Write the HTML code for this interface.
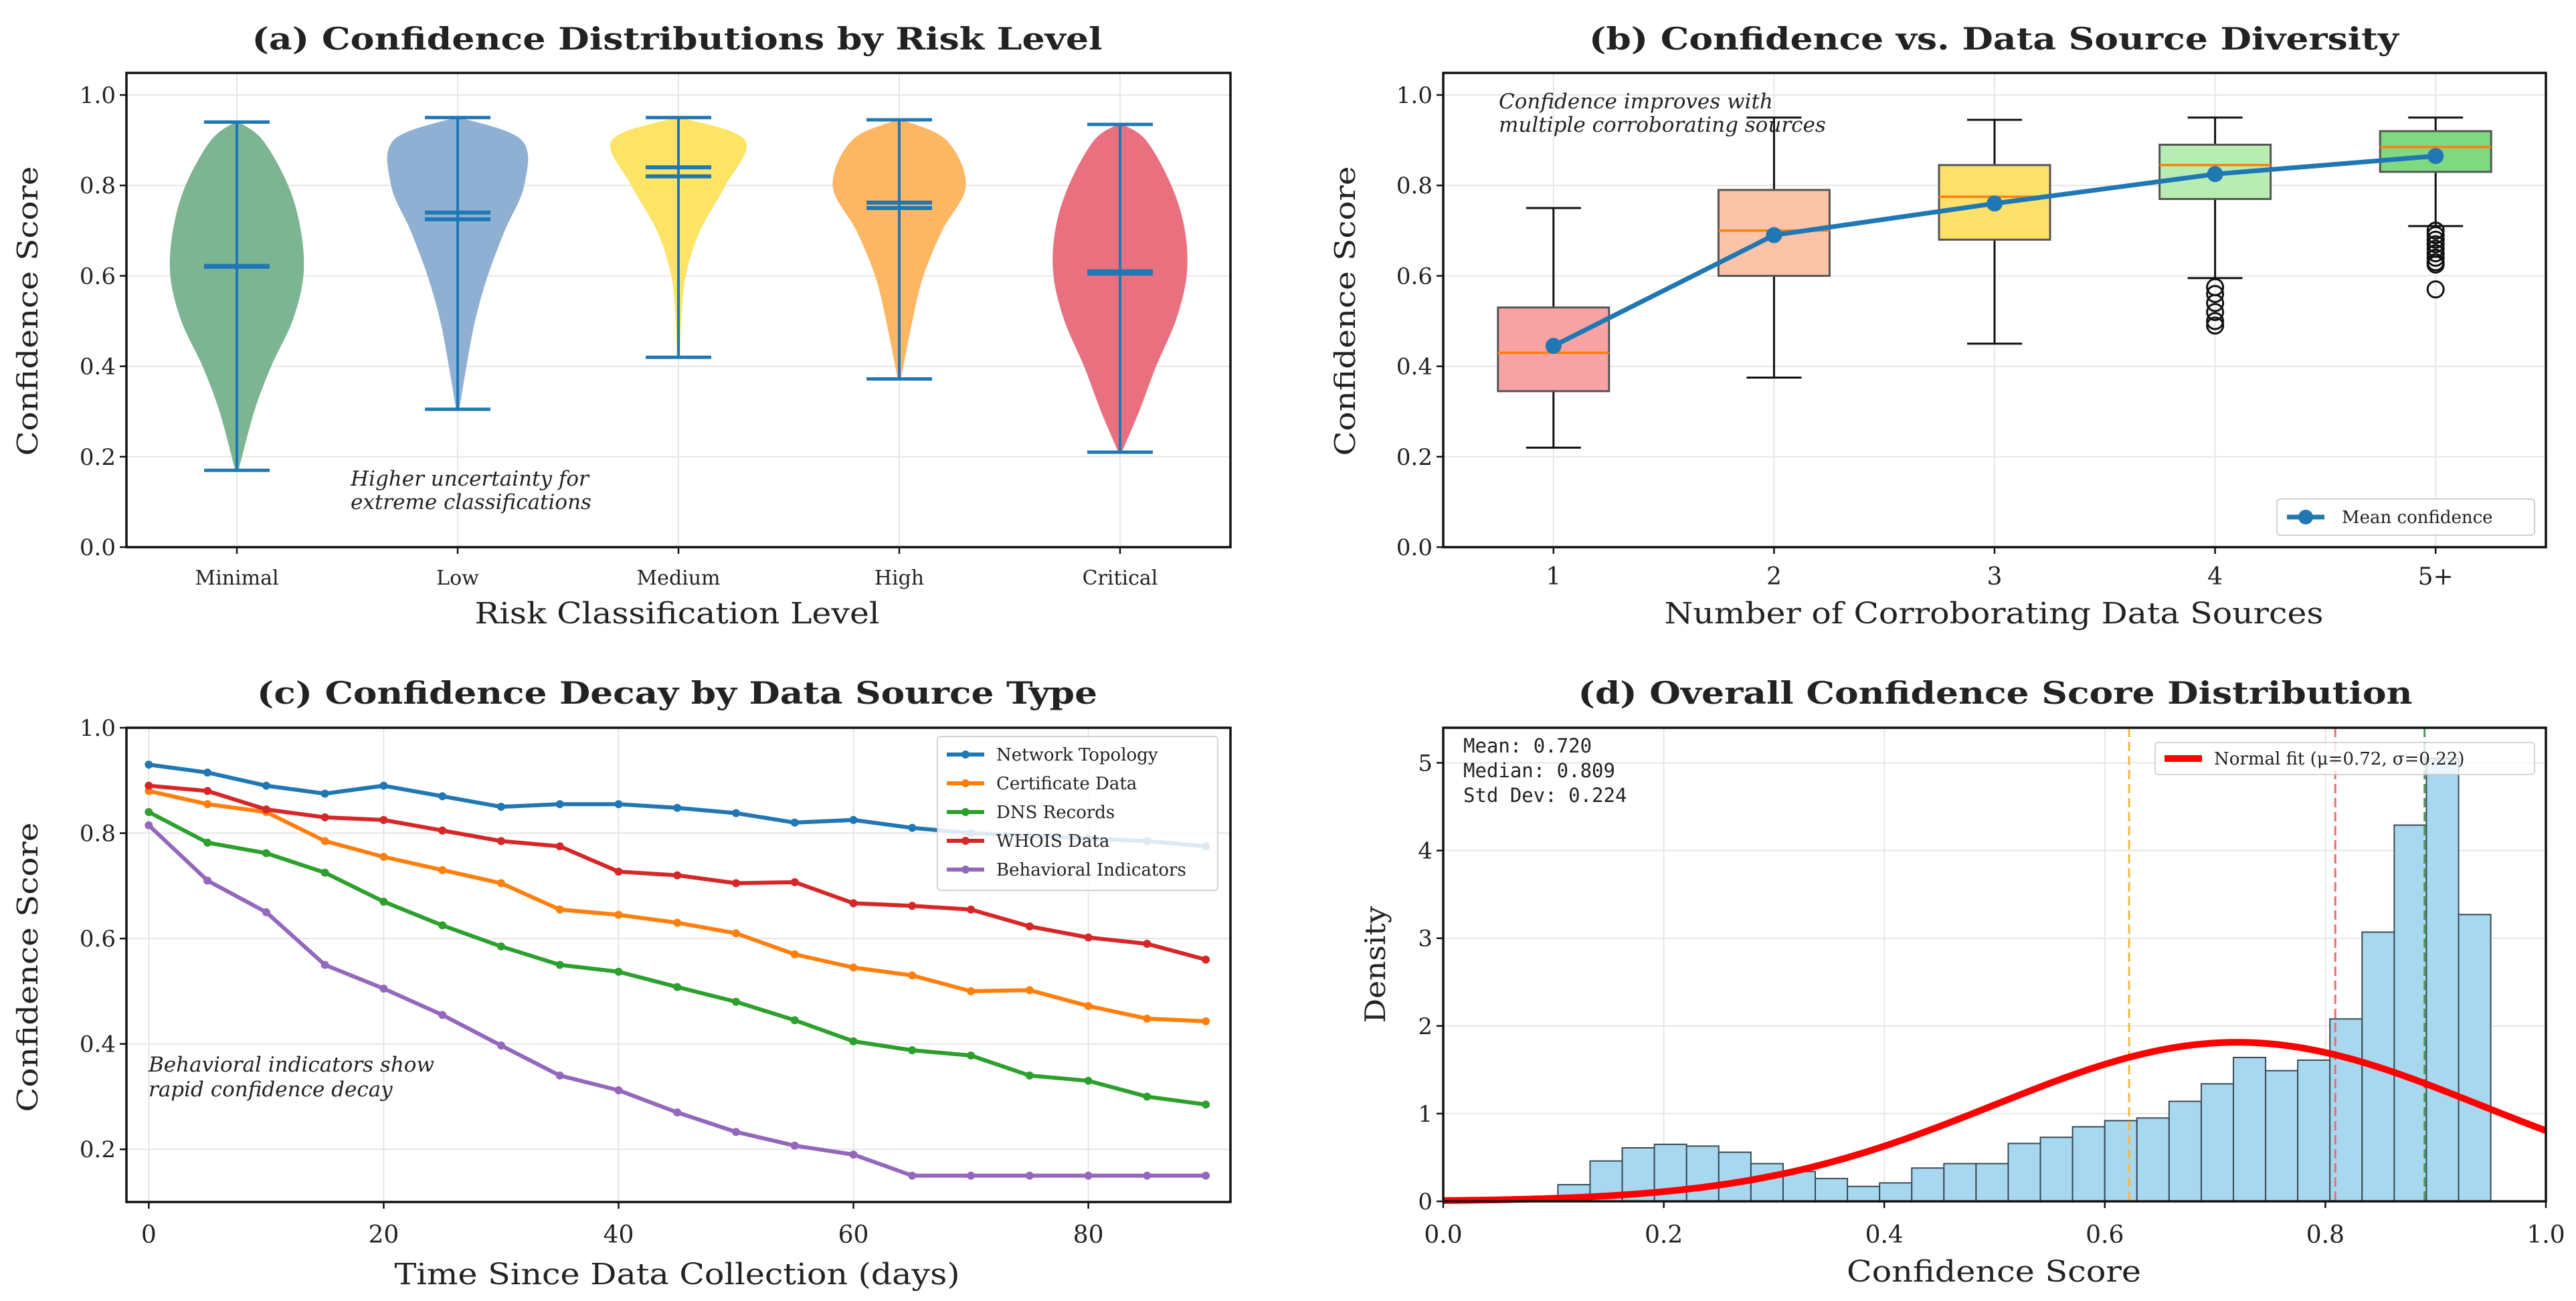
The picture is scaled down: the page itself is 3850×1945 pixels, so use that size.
<!DOCTYPE html>
<html><head><meta charset="utf-8"><style>
body{margin:0;background:#fff}
svg{display:block}
text{font-family:"DejaVu Serif","Liberation Serif",serif;fill:#222}
</style></head><body>
<svg id="fig" width="3850" height="1945" viewBox="0 0 3850 1945" xmlns="http://www.w3.org/2000/svg"></svg>
<script>
// ---------- Panel (a) data ----------
const riskLevels = ["Minimal","Low","Medium","High","Critical"];
const violinGrid = [0.2,0.3,0.4,0.5,0.6,0.7,0.8,0.9];
const violinDensity = [
  [5,20,40,65,78,75,60,30],
  [0,0,10,20,35,55,78,75],
  [0,0,0,3,8,25,55,78],
  [0,0,5,15,28,50,78,55],
  [5,22,42,65,78,76,60,30]
];
const violinMin = [0.17,0.305,0.42,0.372,0.21];
const violinMax = [0.94,0.95,0.95,0.945,0.935];
const violinMean = [0.62,0.725,0.82,0.75,0.605];
const violinMedian = [0.622,0.74,0.84,0.762,0.61];
const violinColors = ["#7db592","#8fb0d2","#fde466","#fdb662","#e9707f"];

// ---------- Panel (b) data ----------
const sourceCats = ["1","2","3","4","5+"];
const boxLow = [0.22,0.375,0.45,0.595,0.71];
const boxQ1 = [0.345,0.60,0.68,0.77,0.83];
const boxMed = [0.43,0.70,0.775,0.845,0.885];
const boxQ3 = [0.53,0.79,0.845,0.89,0.92];
const boxHigh = [0.75,0.95,0.945,0.95,0.95];
const boxMean = [0.445,0.69,0.76,0.825,0.865];
const boxOutliers = [[],[],[],[0.575,0.56,0.54,0.52,0.50,0.49],[0.70,0.69,0.68,0.67,0.66,0.65,0.64,0.63,0.625,0.57]];
const boxColors = ["#f8a3a3","#fbc4a8","#fbe06a","#b9ecb2","#80d880"];

// ---------- Panel (c) data ----------
const days = [0,5,10,15,20,25,30,35,40,45,50,55,60,65,70,75,80,85,90];
const sNetwork = [0.93,0.915,0.89,0.875,0.89,0.87,0.85,0.855,0.855,0.848,0.838,0.82,0.825,0.81,0.80,0.795,0.79,0.785,0.775];
const sCert = [0.88,0.855,0.84,0.785,0.755,0.73,0.705,0.655,0.645,0.63,0.61,0.57,0.545,0.53,0.50,0.502,0.472,0.448,0.443];
const sDNS = [0.84,0.782,0.762,0.725,0.67,0.625,0.585,0.55,0.537,0.508,0.48,0.445,0.405,0.388,0.378,0.34,0.33,0.30,0.285];
const sWhois = [0.89,0.88,0.845,0.83,0.825,0.805,0.785,0.775,0.727,0.72,0.705,0.707,0.667,0.662,0.655,0.623,0.602,0.59,0.56];
const sBehav = [0.815,0.71,0.65,0.55,0.505,0.455,0.397,0.34,0.312,0.27,0.233,0.207,0.19,0.15,0.15,0.15,0.15,0.15,0.15];
const seriesNames = ["Network Topology","Certificate Data","DNS Records","WHOIS Data","Behavioral Indicators"];
const seriesColors = ["#1f77b4","#ff7f0e","#2ca02c","#d62728","#9467bd"];

// ---------- Panel (d) data ----------
const histStart = 0.104, histEnd = 0.95;
const histHeights = [0.19,0.46,0.61,0.65,0.63,0.56,0.43,0.34,0.26,0.17,0.21,0.38,0.43,0.43,0.66,0.73,0.85,0.92,0.95,1.14,1.34,1.64,1.49,1.61,2.08,3.07,4.29,5.05,3.27];
const fitMu = 0.72, fitSigma = 0.22;
const refLines = [0.622,0.809,0.89];
const refColors = ["#f5b942","#f26b6b","#4a9a5a"];
const yTicksA = [0,0.2,0.4,0.6,0.8,1.0];
const yTicksC = [0.2,0.4,0.6,0.8,1.0];
const xTicksC = [0,20,40,60,80];
const xTicksD = [0,0.2,0.4,0.6,0.8,1.0];
const yTicksD = [0,1,2,3,4,5];

const NS="http://www.w3.org/2000/svg";
const svg=document.getElementById('fig');
function mk(tag,attrs,parent){const e=document.createElementNS(NS,tag);for(const k in attrs)e.setAttribute(k,attrs[k]);(parent||svg).appendChild(e);return e;}
function txt(s,attrs,parent){const e=mk('text',attrs,parent);e.textContent=s;return e;}
function lin(a,b,c,d){return v=>c+(v-a)/(b-a)*(d-c);}
// Catmull-Rom smooth path through points
function smooth(P){let d='M'+P[0][0]+','+P[0][1];
for(let i=0;i<P.length-1;i++){const p0=P[Math.max(0,i-1)],p1=P[i],p2=P[i+1],p3=P[Math.min(P.length-1,i+2)];
const c1x=p1[0]+(p2[0]-p0[0])/6,c1y=p1[1]+(p2[1]-p0[1])/6,c2x=p2[0]-(p3[0]-p1[0])/6,c2y=p2[1]-(p3[1]-p1[1])/6;
d+=`C${c1x},${c1y} ${c2x},${c2y} ${p2[0]},${p2[1]}`;}return d;}

const A={l:189,r:1839,t:109,b:818}, B={l:2157,r:3805,t:109,b:818}, C={l:189,r:1839,t:1088,b:1797}, D={l:2157,r:3805,t:1088,b:1796};

function title(s,cx,y,w){const t=txt(s,{x:cx,y:y,'text-anchor':'middle','font-size':46,'font-weight':'bold',textLength:w,lengthAdjust:'spacingAndGlyphs'});

}
function frame(P){const r=mk('rect',{x:P.l,y:P.t,width:P.r-P.l,height:P.b-P.t,fill:'none',stroke:'#111','stroke-width':3.5});

}
function hgrid(P,ys,vals){vals.forEach(v=>{mk('line',{x1:P.l,x2:P.r,y1:ys(v),y2:ys(v),stroke:'#e6e6e6','stroke-width':2});});}
function vgrid(P,xs,vals){vals.forEach(v=>{mk('line',{y1:P.t,y2:P.b,x1:xs(v),x2:xs(v),stroke:'#e6e6e6','stroke-width':2});});}
function yticks(P,ys,vals,fmt){vals.forEach(v=>{const y=ys(v);mk('line',{x1:P.l-10,x2:P.l,y1:y,y2:y,stroke:'#111','stroke-width':2.5});
const t=txt(fmt(v),{x:P.l-16,y:y+12,'text-anchor':'end','font-size':34});

});}
function xticks(P,xs,vals,labels,y,fs){vals.forEach((v,i)=>{const x=xs(v);mk('line',{x1:x,x2:x,y1:P.b,y2:P.b+10,stroke:'#111','stroke-width':2.5});
const t=txt(labels[i],{x:x,y:y,'text-anchor':'middle','font-size':fs});

});}
function ylabel(s,x,cy,len){const t=txt(s,{x:0,y:0,'text-anchor':'middle','font-size':42,transform:`translate(${x},${cy}) rotate(-90)`,textLength:len,lengthAdjust:'spacingAndGlyphs'});

}
function xlabel(s,cx,y,len){const t=txt(s,{x:cx,y:y,'text-anchor':'middle','font-size':44,textLength:len,lengthAdjust:'spacingAndGlyphs'});

}

// ================= Panel A =================
title("(a) Confidence Distributions by Risk Level",1012,74,1271);
const ayA=lin(0,1,A.b,A.b-676);
const axA=lin(-0.5,4.5,A.l,A.r);
vgrid(A,axA,[0,1,2,3,4]);hgrid(A,ayA,yTicksA);
const halfMax=0.3*(A.r-A.l)/5;
riskLevels.forEach((c,i)=>{
  const cx=axA(i);
  const pts=[[violinMin[i],0.02]];
  violinGrid.forEach((g,j)=>{if(g>violinMin[i]+0.03&&g<violinMax[i]-0.02)pts.push([g,Math.max(0.02,violinDensity[i][j]/78)]);});
  pts.push([violinMax[i],0.02]);
  const right=pts.map(p=>[cx+p[1]*halfMax,ayA(p[0])]);
  const left=pts.slice().reverse().map(p=>[cx-p[1]*halfMax,ayA(p[0])]);
  const d=smooth(right)+smooth(left).replace(/^M/,'L')+'Z';
  const v=mk('path',{d:d,fill:violinColors[i],stroke:violinColors[i],'stroke-width':1});
  
  
  mk('line',{x1:cx,x2:cx,y1:ayA(violinMin[i]),y2:ayA(violinMax[i]),stroke:'#1f77b4','stroke-width':4});
  [violinMin[i],violinMax[i]].forEach(v=>mk('line',{x1:cx-49,x2:cx+49,y1:ayA(v),y2:ayA(v),stroke:'#1f77b4','stroke-width':5}));
  mk('line',{x1:cx-49,x2:cx+49,y1:ayA(violinMean[i]),y2:ayA(violinMean[i]),stroke:'#1f77b4','stroke-width':6});
  mk('line',{x1:cx-49,x2:cx+49,y1:ayA(violinMedian[i]),y2:ayA(violinMedian[i]),stroke:'#1f77b4','stroke-width':6});
});
frame(A);
yticks(A,ayA,yTicksA,v=>v.toFixed(1));
xticks(A,axA,[0,1,2,3,4],riskLevels,874,30);
xlabel("Risk Classification Level",1012,932,605);
ylabel("Confidence Score",56,465,433);
{const t=txt("Higher uncertainty for",{x:524,y:726,'font-size':31,'font-style':'italic'});


const t2=txt("extreme classifications",{x:524,y:761,'font-size':31,'font-style':'italic'});

}

// ================= Panel B =================
title("(b) Confidence vs. Data Source Diversity",2980,74,1210);
const ayB=lin(0,1,B.b,B.b-676);
const axB=lin(0.5,5.5,B.l,B.r);
vgrid(B,axB,[1,2,3,4,5]);hgrid(B,ayB,yTicksA);
sourceCats.forEach((c,i)=>{
  const cx=axB(i+1),hw=83,cw=41;
  mk('line',{x1:cx,x2:cx,y1:ayB(boxLow[i]),y2:ayB(boxQ1[i]),stroke:'#111','stroke-width':3});
  mk('line',{x1:cx,x2:cx,y1:ayB(boxQ3[i]),y2:ayB(boxHigh[i]),stroke:'#111','stroke-width':3});
  [boxLow[i],boxHigh[i]].forEach(v=>mk('line',{x1:cx-cw,x2:cx+cw,y1:ayB(v),y2:ayB(v),stroke:'#111','stroke-width':3}));
  const r=mk('rect',{x:cx-hw,y:ayB(boxQ3[i]),width:2*hw,height:ayB(boxQ1[i])-ayB(boxQ3[i]),fill:boxColors[i],stroke:'#555','stroke-width':3});
  
  
  mk('line',{x1:cx-hw,x2:cx+hw,y1:ayB(boxMed[i]),y2:ayB(boxMed[i]),stroke:'#ff7f0e','stroke-width':3.5});
  boxOutliers[i].forEach(o=>{const c2=mk('circle',{cx:cx,cy:ayB(o),r:12,fill:'none',stroke:'#111','stroke-width':3});
  
  });
});
{let d='';boxMean.forEach((m,i)=>{d+=(i?'L':'M')+axB(i+1)+','+ayB(m);});
const p=mk('path',{d:d,fill:'none',stroke:'#1f77b4','stroke-width':7});


boxMean.forEach((m,i)=>{const c=mk('circle',{cx:axB(i+1),cy:ayB(m),r:12,fill:'#1f77b4'});

});}
frame(B);
yticks(B,ayB,yTicksA,v=>v.toFixed(1));
xticks(B,axB,[1,2,3,4,5],sourceCats,874,36);
xlabel("Number of Corroborating Data Sources",2980,932,985);
ylabel("Confidence Score",2025,465,433);
{const t=txt("Confidence improves with",{x:2240,y:162,'font-size':31,'font-style':'italic'});


const t2=txt("multiple corroborating sources",{x:2240,y:197,'font-size':31,'font-style':'italic'});


const g=mk('g',{});


mk('rect',{x:3403,y:746,width:385,height:54,fill:'#fff',stroke:'#ccc','stroke-width':2,rx:5,opacity:0.9},g);
mk('line',{x1:3418,x2:3474,y1:773,y2:773,stroke:'#1f77b4','stroke-width':7},g);
mk('circle',{cx:3446,cy:773,r:11,fill:'#1f77b4'},g);
txt("Mean confidence",{x:3500,y:782,'font-size':26},g);}

// ================= Panel C =================
title("(c) Confidence Decay by Data Source Type",1012,1052,1256);
const axC=lin(-1.9,92.1,C.l,C.r);
const ayC=lin(0.1,1.0,C.b,C.t);
vgrid(C,axC,xTicksC);hgrid(C,ayC,yTicksC);
[sNetwork,sCert,sDNS,sWhois,sBehav].forEach((s,k)=>{
  let d='';s.forEach((v,i)=>{d+=(i?'L':'M')+axC(days[i])+','+ayC(v);});
  const p=mk('path',{d:d,fill:'none',stroke:seriesColors[k],'stroke-width':6,'stroke-linejoin':'round'});
  
  
  s.forEach((v,i)=>{mk('circle',{cx:axC(days[i]),cy:ayC(v),r:6,fill:seriesColors[k]});});
});
{const g=mk('g',{});


mk('rect',{x:1401,y:1101,width:419,height:230,fill:'#fff',stroke:'#ccc','stroke-width':2,rx:5,opacity:0.85},g);
seriesNames.forEach((n,k)=>{const y=1128+k*43;
mk('line',{x1:1415,x2:1471,y1:y,y2:y,stroke:seriesColors[k],'stroke-width':6},g);
mk('circle',{cx:1443,cy:y,r:6,fill:seriesColors[k]},g);
txt(n,{x:1489,y:y+9,'font-size':26},g);});}
frame(C);
yticks(C,ayC,yTicksC,v=>v.toFixed(1));
xticks(C,axC,xTicksC,xTicksC.map(String),1858,36);
xlabel("Time Since Data Collection (days)",1012,1920,845);
ylabel("Confidence Score",56,1446,433);
{const t=txt("Behavioral indicators show",{x:222,y:1602,'font-size':31,'font-style':'italic'});


const t2=txt("rapid confidence decay",{x:222,y:1639,'font-size':31,'font-style':'italic'});

}

// ================= Panel D =================
title("(d) Overall Confidence Score Distribution",2982,1052,1247);
const axD=lin(0,1,D.l,D.r);
const ayD=lin(0,5.4,D.b,D.t);
vgrid(D,axD,xTicksD);hgrid(D,ayD,yTicksD);
const bw=(histEnd-histStart)/histHeights.length;
histHeights.forEach((h,i)=>{const x0=axD(histStart+i*bw),x1=axD(histStart+(i+1)*bw);
const r=mk('rect',{x:x0,y:ayD(h),width:x1-x0,height:ayD(0)-ayD(h),fill:'#a8d8ef',stroke:'#3a4a55','stroke-width':2});

});
refLines.forEach((v,i)=>{const l=mk('line',{x1:axD(v),x2:axD(v),y1:D.t,y2:D.b,stroke:refColors[i],'stroke-width':3,'stroke-dasharray':'14,7'});

});
{let d='';for(let i=0;i<=200;i++){const x=i/200;const y=Math.exp(-0.5*((x-fitMu)/fitSigma)**2)/(fitSigma*Math.sqrt(2*Math.PI));d+=(i?'L':'M')+axD(x)+','+ayD(y);}
const p=mk('path',{d:d,fill:'none',stroke:'#ff0000','stroke-width':10});

}
{const g=mk('g',{});


mk('rect',{x:3221,y:1110,width:567,height:48,fill:'#fff',stroke:'#ccc','stroke-width':2,rx:5,opacity:0.8},g);
mk('line',{x1:3235,x2:3291,y1:1134,y2:1134,stroke:'#ff0000','stroke-width':10},g);
txt("Normal fit (μ=0.72, σ=0.22)",{x:3309,y:1143,'font-size':26},g);
['Mean: 0.720','Median: 0.809','Std Dev: 0.224'].forEach((s,i)=>{const t=txt(s,{x:2187,y:1125+i*37,'font-size':29,style:'font-family:"DejaVu Sans Mono","Liberation Mono",monospace'});

});}
frame(D);
yticks(D,ayD,yTicksD,v=>String(v));
xticks(D,axD,xTicksD,xTicksD.map(v=>v.toFixed(1)),1858,36);
xlabel("Confidence Score",2980,1916,440);
ylabel("Density",2070,1442,175);
</script>
</body></html>
